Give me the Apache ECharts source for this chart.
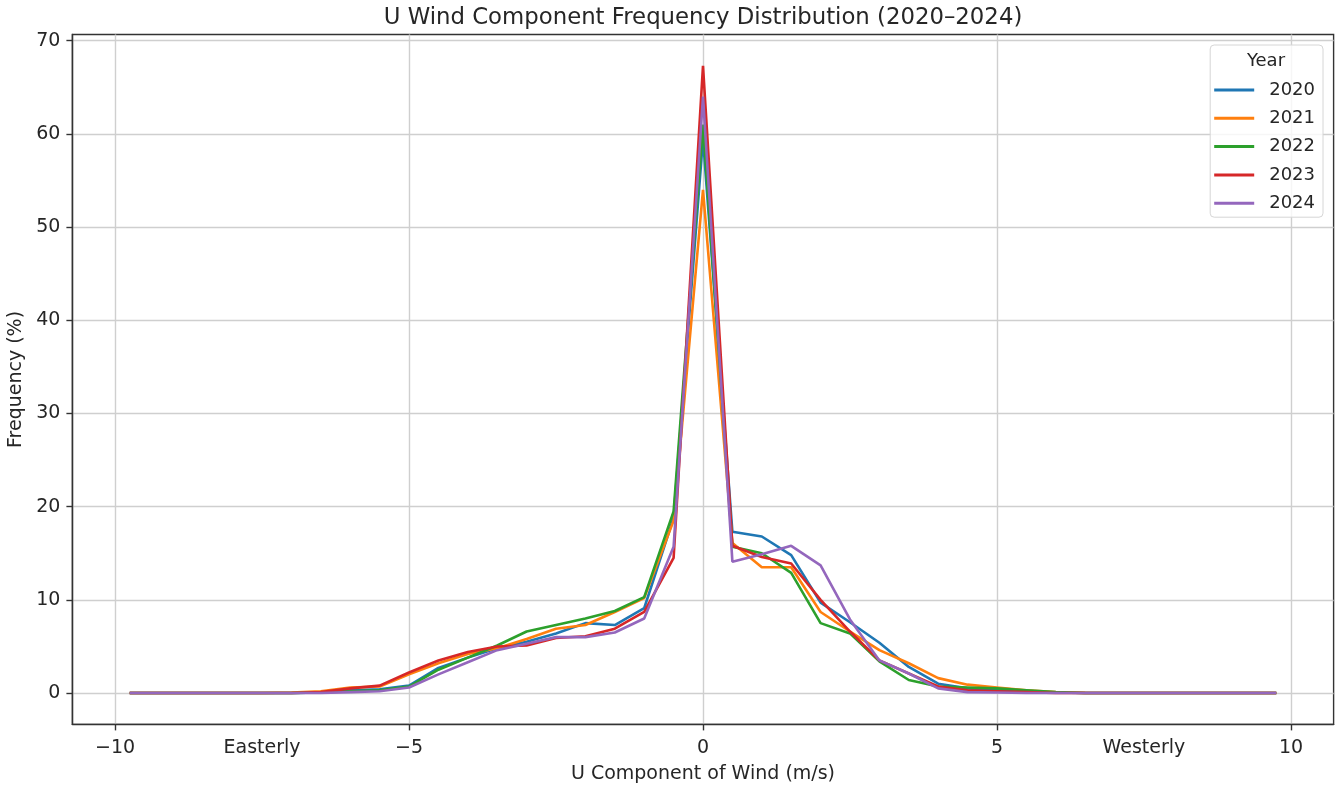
<!DOCTYPE html>
<html>
<head>
<meta charset="utf-8">
<title>U Wind Component Frequency Distribution</title>
<script src="https://cdn.jsdelivr.net/npm/echarts@6/dist/echarts.min.js"></script>
<style>
  html, body { margin: 0; padding: 0; background: #ffffff; }
  #chart { width: 1338px; height: 787px; }
</style>
</head>
<body>
<div id="chart"></div>
<script>
/* ===== data ===== */

// bin positions of U (m/s)
const uValues = [
  -9.75, -9.5, -9, -8.5, -8, -7.5, -7, -6.5, -6, -5.5,
  -5, -4.5, -4, -3.5, -3, -2.5, -2, -1.5, -1, -0.5,
  0,
  0.5, 1, 1.5, 2, 2.5, 3, 3.5, 4, 4.5,
  5, 5.5, 6, 6.5, 7, 7.5, 8, 8.5, 9, 9.5, 9.75
];

const years = ['2020', '2021', '2022', '2023', '2024'];

// frequency (%) per bin
const freq2020 = [
  0, 0, 0, 0, 0, 0, 0, 0.05, 0.3, 0.4,
  0.8, 2.7, 3.8, 4.8, 5.5, 6.4, 7.5, 7.3, 9.1, 18.8,
  59.5,
  17.3, 16.8, 14.8, 9.7, 7.6, 5.4, 2.8, 1.0, 0.5,
  0.3, 0.1, 0.05, 0, 0, 0, 0, 0, 0, 0, 0
];
const freq2021 = [
  0, 0, 0, 0, 0, 0, 0.05, 0.2, 0.6, 0.7,
  2.0, 3.2, 4.2, 4.8, 5.8, 6.9, 7.3, 8.7, 10.2, 18.5,
  54.0,
  16.1, 13.5, 13.5, 8.7, 6.6, 4.6, 3.2, 1.6, 0.9,
  0.6, 0.3, 0.1, 0.02, 0, 0, 0, 0, 0, 0, 0
];
const freq2022 = [
  0, 0, 0, 0, 0, 0, 0, 0.05, 0.2, 0.3,
  0.7, 2.5, 3.8, 5.1, 6.6, 7.3, 8.0, 8.8, 10.3, 19.5,
  61.0,
  15.7, 15.0, 12.9, 7.5, 6.4, 3.4, 1.4, 0.7, 0.6,
  0.5, 0.3, 0.1, 0, 0, 0, 0, 0, 0, 0, 0
];
const freq2023 = [
  0, 0, 0, 0, 0, 0, 0, 0.1, 0.5, 0.8,
  2.2, 3.5, 4.4, 5.0, 5.1, 5.9, 6.1, 6.9, 8.7, 14.5,
  67.3,
  15.8, 14.6, 13.9, 10.0, 6.6, 3.5, 2.1, 0.7, 0.3,
  0.2, 0.1, 0, 0, 0, 0, 0, 0, 0, 0, 0
];
const freq2024 = [
  0, 0, 0, 0, 0, 0, 0, 0, 0.1, 0.2,
  0.6, 2.0, 3.3, 4.6, 5.3, 6.0, 6.0, 6.5, 8.0, 15.7,
  64.0,
  14.1, 14.9, 15.8, 13.7, 7.9, 3.5, 2.1, 0.5, 0.1,
  0.05, 0, 0, 0, 0, 0, 0, 0, 0, 0, 0
];
const freqByYear = [freq2020, freq2021, freq2022, freq2023, freq2024];

// axis ticks
const xTicks = [-10, -5, 0, 5, 10];
const yTicks = [0, 10, 20, 30, 40, 50, 60, 70];
const directionLabels = [
  { value: -7.5, text: 'Easterly' },
  { value: 7.5, text: 'Westerly' },
];

/* ===== styling ===== */

const theme = {
  font: 'DejaVu Sans',
  text: '#262626',
  frame: '#333333',
  grid: '#cfcfcf',
  colors: ['#1f77b4', '#ff7f0e', '#2ca02c', '#d62728', '#9467bd'],
};

function tickText(v) {
  const dir = directionLabels.find(d => d.value === v);
  if (dir) return dir.text;
  return v < 0 ? '\u2212' + Math.abs(v) : String(v);
}

const chart = echarts.init(document.getElementById('chart'), null, { renderer: 'canvas' });

chart.setOption({
  animation: false,
  backgroundColor: '#ffffff',
  textStyle: { fontFamily: theme.font, color: theme.text },
  color: theme.colors,
  title: [
    {
      text: 'U Wind Component Frequency Distribution (2020\u20132024)',
      left: 703,
      top: 7,
      padding: 0,
      textAlign: 'center',
      textStyle: { fontFamily: theme.font, fontSize: 22.8, fontWeight: 'normal', color: theme.text },
    },
    {
      text: 'Year',
      left: 1266,
      top: 52,
      padding: 0,
      textAlign: 'center',
      textStyle: { fontFamily: theme.font, fontSize: 18, fontWeight: 'normal', color: theme.text },
    },
  ],
  legend: {
    orient: 'vertical',
    right: 15,
    top: 45,
    padding: [36, 8, 5, 4],
    itemWidth: 40,
    itemHeight: 3,
    itemGap: 10.3,
    icon: 'rect',
    backgroundColor: 'rgba(255,255,255,0.8)',
    borderColor: '#d6d6d6',
    borderWidth: 1,
    borderRadius: 4,
    textStyle: {
      fontFamily: theme.font,
      fontSize: 18,
      lineHeight: 18,
      color: theme.text,
      padding: [0, 0, 0, 10],
    },
    data: years,
  },
  grid: {
    left: 72.4,
    right: 4.4,
    top: 34.5,
    bottom: 62.6,
    containLabel: false,
    outerBoundsMode: 'none',
    show: true,
    borderColor: theme.frame,
    borderWidth: 1.4,
    backgroundColor: 'transparent',
  },
  xAxis: {
    type: 'value',
    min: -10.725,
    max: 10.725,
    name: 'U Component of Wind (m/s)',
    nameLocation: 'middle',
    nameGap: 40,
    nameTextStyle: { fontFamily: theme.font, fontSize: 19, color: theme.text },
    axisLine: { show: true, onZero: false, lineStyle: { color: theme.frame, width: 1.4 } },
    axisTick: {
      show: true,
      inside: false,
      length: 6,
      customValues: xTicks,
      lineStyle: { color: theme.frame, width: 1.4 },
    },
    axisLabel: {
      show: true,
      margin: 14,
      fontFamily: theme.font,
      fontSize: 19,
      color: theme.text,
      customValues: xTicks.concat(directionLabels.map(d => d.value)),
      formatter: tickText,
    },
    splitLine: { show: true, lineStyle: { color: theme.grid, width: 1.4 } },
  },
  yAxis: {
    type: 'value',
    min: -3.365,
    max: 70.665,
    name: 'Frequency (%)',
    nameLocation: 'middle',
    nameGap: 43,
    nameTextStyle: { fontFamily: theme.font, fontSize: 19, color: theme.text },
    axisLine: { show: true, onZero: false, lineStyle: { color: theme.frame, width: 1.4 } },
    axisTick: {
      show: true,
      inside: false,
      length: 6,
      customValues: yTicks,
      lineStyle: { color: theme.frame, width: 1.4 },
    },
    axisLabel: {
      show: true,
      margin: 12,
      fontFamily: theme.font,
      fontSize: 19,
      color: theme.text,
      customValues: yTicks,
    },
    splitLine: { show: true, lineStyle: { color: theme.grid, width: 1.4 } },
  },
  series: years.map((year, i) => ({
    name: year,
    type: 'line',
    data: uValues.map((u, k) => [u, freqByYear[i][k]]),
    showSymbol: false,
    symbol: 'none',
    smooth: false,
    lineStyle: { width: 2.6, color: theme.colors[i] },
    itemStyle: { color: theme.colors[i] },
    emphasis: { disabled: true },
  })),
});

window.addEventListener('resize', () => {
  chart.resize();
});
</script>
</body>
</html>
